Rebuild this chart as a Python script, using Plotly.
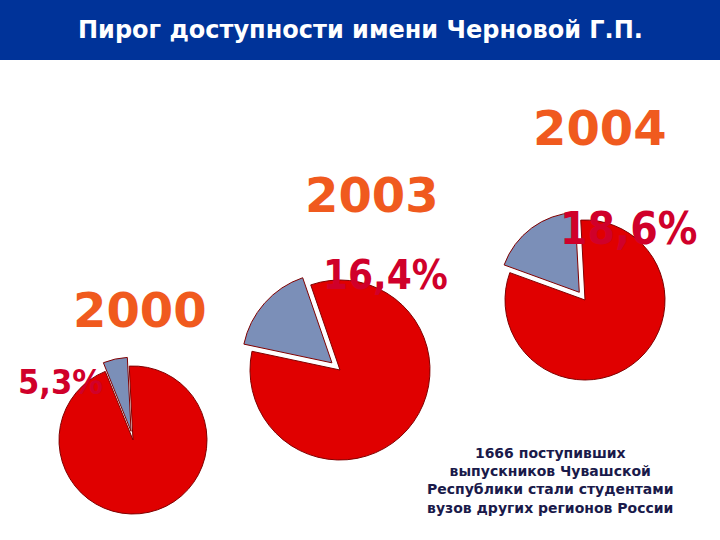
import plotly.graph_objects as go

years = ["2000", "2003", "2004"]
shares = [5.3, 16.4, 18.6]
pct_labels = ["5,3%", "16,4%", "18,6%"]
rotations = [-22, -78, -70]
centers = [(133, 440), (340, 370), (585, 300)]
radii = [74, 90, 80]

W, H = 720, 540
fig = go.Figure()
for s, rot, (cx, cy), r in zip(shares, rotations, centers, radii):
    h = r * 1.12
    fig.add_trace(go.Pie(
        values=[s, 100 - s], sort=False, direction="clockwise", rotation=rot,
        pull=[0.12, 0], textinfo="none", hoverinfo="skip", showlegend=False,
        marker=dict(colors=["#7b8fb8", "#e00000"], line=dict(color="#800000", width=1)),
        domain=dict(x=[(cx - h) / W, (cx + h) / W], y=[1 - (cy + h) / H, 1 - (cy - h) / H])))

fig.add_shape(type="rect", xref="paper", yref="paper", x0=0, x1=1, y0=1 - 60 / H, y1=1,
              fillcolor="#003399", line_width=0, layer="below")
fig.add_annotation(x=0.5, y=1 - 30 / H, xref="paper", yref="paper", showarrow=False,
                   xanchor="center", yanchor="middle",
                   text="<b>Пирог доступности имени Черновой Г.П.</b>",
                   font=dict(family="DejaVu Sans", size=24, color="white"))

year_pos = [(140, 310), (372, 195), (600, 128)]
for t, (x, y) in zip(years, year_pos):
    fig.add_annotation(x=x / W, y=1 - y / H, xref="paper", yref="paper", showarrow=False,
                       xanchor="center", yanchor="middle",
                       text="<b>" + t + "</b>",
                       font=dict(family="DejaVu Sans", size=48, color="#f05a1e"))
pct_pos = [(60, 382), (385, 275), (628, 228)]
pct_sizes = [34, 40, 44]
for t, (x, y), fs in zip(pct_labels, pct_pos, pct_sizes):
    fig.add_annotation(x=x / W, y=1 - y / H, xref="paper", yref="paper", showarrow=False,
                       xanchor="center", yanchor="middle",
                       text="<b>" + t + "</b>",
                       font=dict(family="DejaVu Sans Condensed", size=fs, color="#d0002a"))

fig.add_annotation(x=550 / W, y=1 - 480 / H, xref="paper", yref="paper", showarrow=False,
                   xanchor="center", yanchor="middle",
                   text="<b>1666 поступивших<br>выпускников Чувашской<br>Республики стали студентами<br>вузов других регионов России</b>",
                   align="center",
                   font=dict(family="DejaVu Sans", size=14, color="#1a1a4a"))

fig.update_layout(width=W, height=H, margin=dict(l=0, r=0, t=0, b=0),
                  paper_bgcolor="white", plot_bgcolor="white")
fig.write_html("out.html", config={"displayModeBar": False},
               post_script="document.body.style.margin='0';")
